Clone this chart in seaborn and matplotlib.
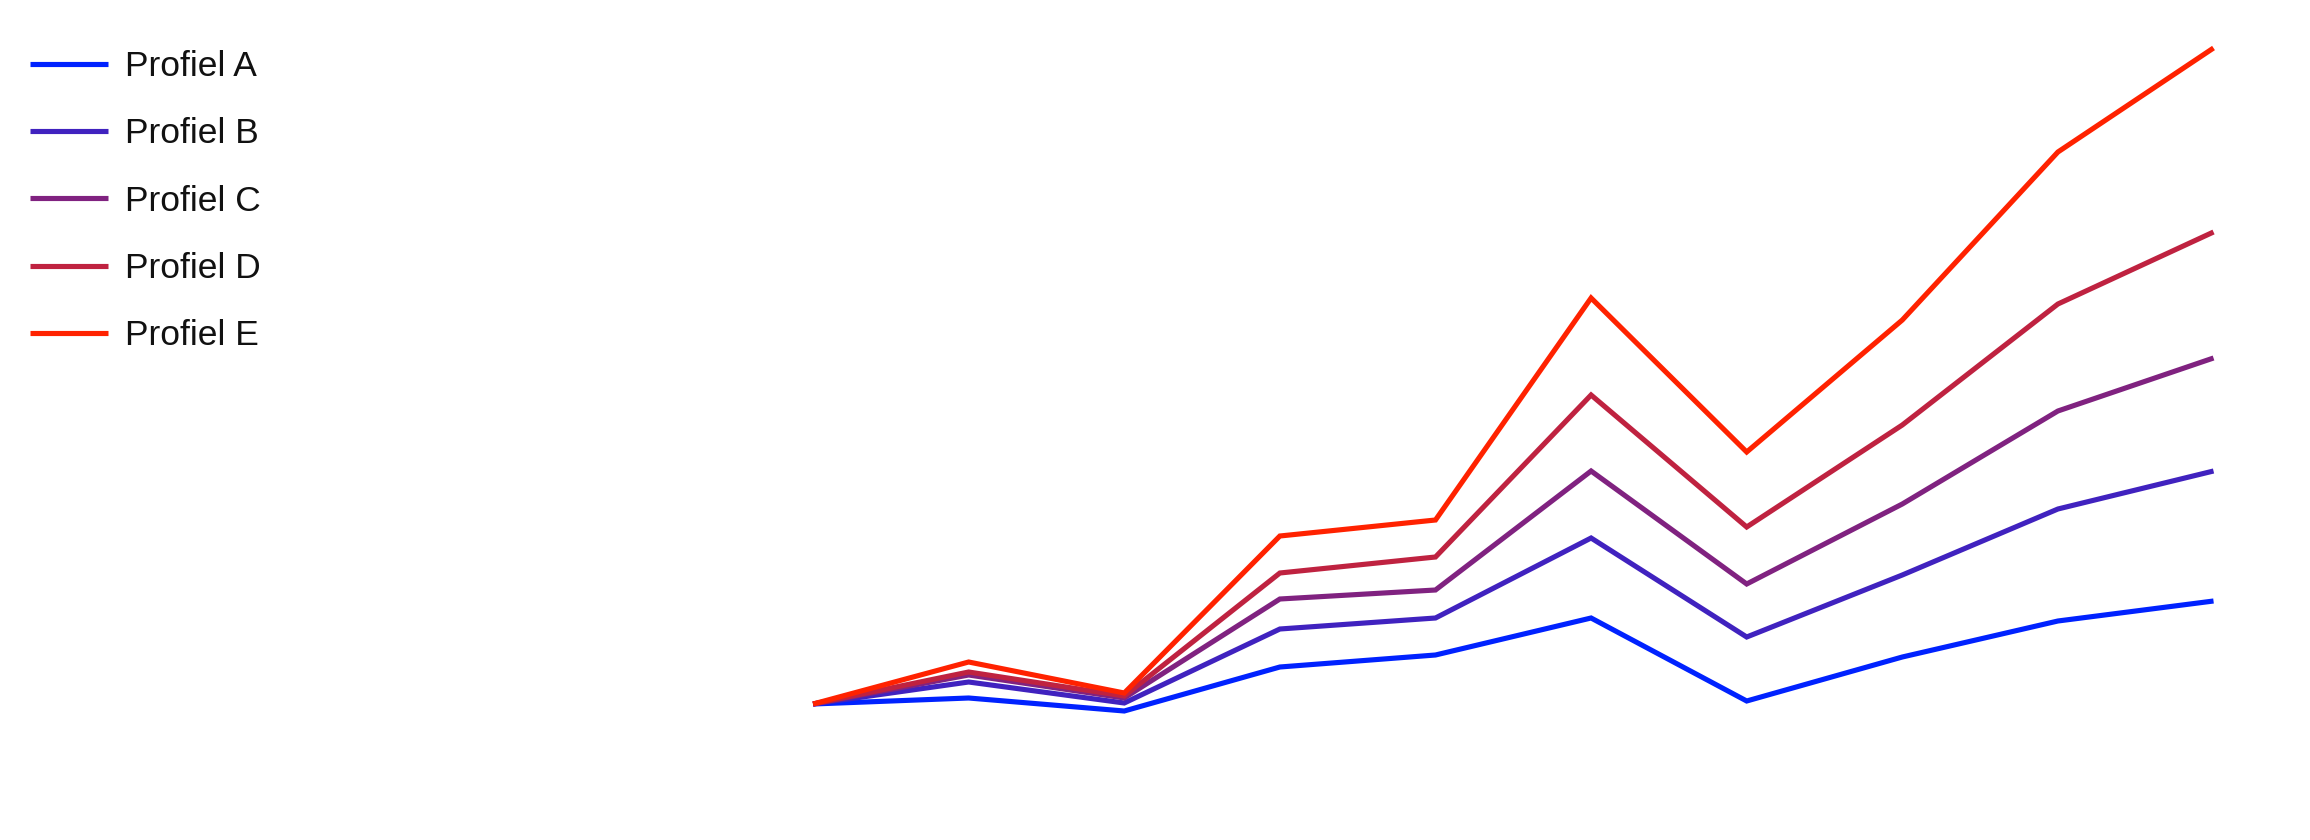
import matplotlib
matplotlib.use("Agg")
import matplotlib.pyplot as plt
import seaborn as sns
import pandas as pd

# ---- data ----
periods = [1, 2, 3, 4, 5, 6, 7, 8, 9, 10]
profiel_a = [13.6, 14.2, 12.9, 17.3, 18.5, 22.2, 13.9, 18.3, 21.9, 23.9]
profiel_b = [13.6, 15.8, 13.7, 21.1, 22.2, 30.2, 20.3, 26.5, 33.1, 36.9]
profiel_c = [13.6, 16.5, 14.2, 24.1, 25.0, 36.9, 25.6, 33.6, 42.9, 48.2]
profiel_d = [13.6, 16.8, 14.4, 26.7, 28.3, 44.5, 31.3, 41.5, 53.6, 60.8]
profiel_e = [13.6, 17.8, 14.7, 30.4, 32.0, 54.2, 38.8, 52.0, 68.8, 79.2]
series_names = ["Profiel A", "Profiel B", "Profiel C", "Profiel D", "Profiel E"]
colors = ["#0022ff", "#4022bf", "#802280", "#bf2240", "#ff2200"]

rows = []
for name, vals in zip(series_names, [profiel_a, profiel_b, profiel_c, profiel_d, profiel_e]):
    for p, v in zip(periods, vals):
        rows.append({"periode": p, "waarde": v, "profiel": name})
df = pd.DataFrame(rows)

sns.set_theme(style="white")
plt.rcParams['font.family'] = ['Liberation Sans', 'DejaVu Sans']
plt.rcParams['text.color'] = '#111111'

fig = plt.figure(figsize=(23.1, 8.4), dpi=100)
ax = fig.add_axes([0, 0, 1, 1])
sns.lineplot(data=df, x="periode", y="waarde", hue="profiel",
             hue_order=series_names, palette=colors, linewidth=3.7,
             ax=ax, legend=True, solid_joinstyle="miter", solid_capstyle="butt")
ax.set_xlim(-4.225, 10.62)
ax.set_ylim(0, 84)
ax.axis("off")

handles, labels = ax.get_legend_handles_labels()
for h in handles:
    h.set_linewidth(3.7)
    h.set_solid_capstyle("butt")
leg = ax.legend(handles, labels, loc="upper left",
                bbox_to_anchor=(30 / 2310, 1 - 50 / 840), bbox_transform=fig.transFigure,
                frameon=False, fontsize=25.5, handlelength=2.2, handletextpad=0.47,
                labelspacing=0.97, borderpad=0, borderaxespad=0)
for t in leg.get_texts():
    t.set_color('#111111')

fig.savefig("out.png", dpi=100, facecolor="white")
